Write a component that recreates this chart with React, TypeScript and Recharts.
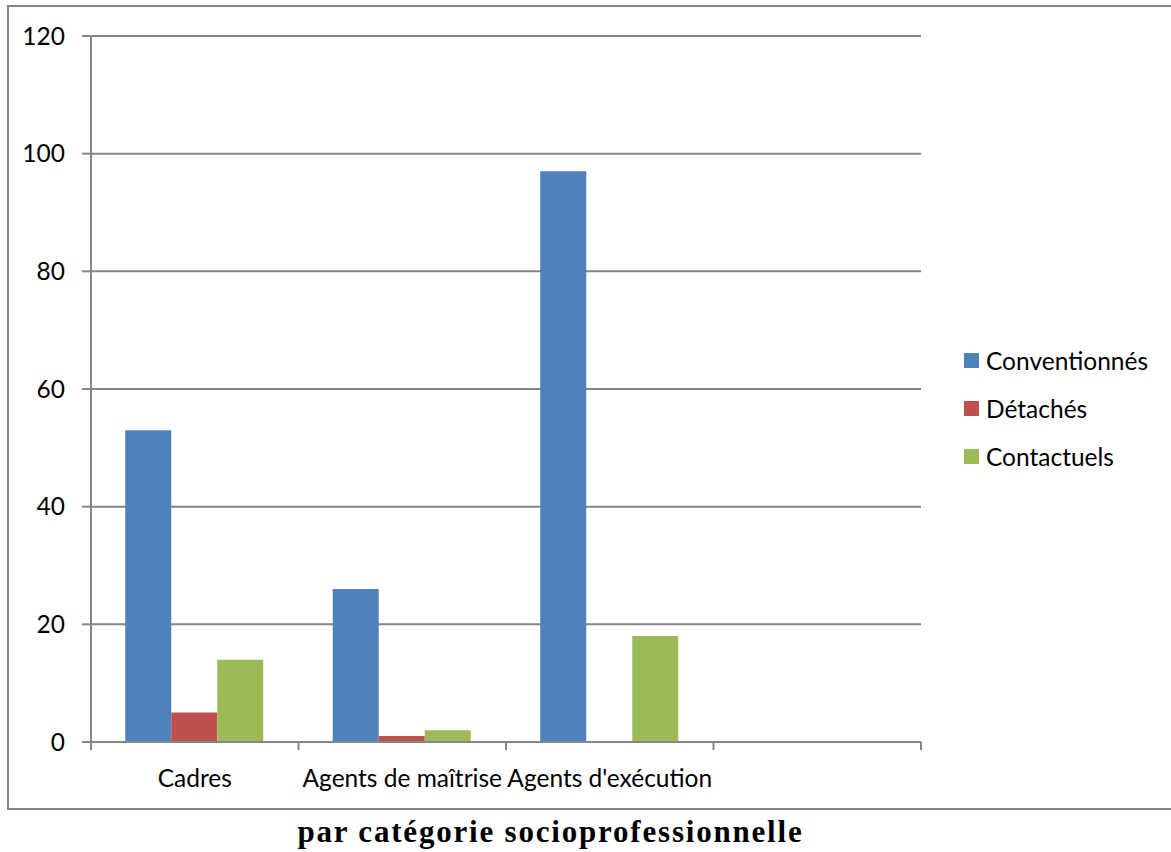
import { BarChart, Bar, XAxis, YAxis, CartesianGrid, Legend } from 'recharts';

const categories = ['Cadres', 'Agents de maîtrise', "Agents d'exécution", ''];
const conventionnes = [53, 26, 97, null];
const detaches = [5, 1, 0, null];
const contactuels = [14, 2, 18, null];
const yTicks = [0, 20, 40, 60, 80, 100, 120];

const series = [
  { key: 'conventionnes', name: 'Conventionnés', color: '#4F81BD' },
  { key: 'detaches', name: 'Détachés', color: '#C0504D' },
  { key: 'contactuels', name: 'Contactuels', color: '#9BBB59' },
];

const data = categories.map((name, i) => ({
  name,
  conventionnes: conventionnes[i],
  detaches: detaches[i],
  contactuels: contactuels[i],
}));

const W = 1171;
const H = 852;
const YW = 60;
const margin = { top: 36, right: 50, bottom: 70, left: 31 };
const LEGEND_W = 200;
const plotW = W - margin.left - margin.right - YW - LEGEND_W;
const band = plotW / categories.length;
const FONT = 'Lato, "Open Sans", sans-serif';
const FS = 24.5;
const GREY = '#868686';

function CatTick(props: any) {
  const { x, y, payload, index } = props;
  const half = band / 2;
  return (
    <g>
      <line x1={x - half} x2={x - half} y1={y - 8} y2={y} stroke={GREY} strokeWidth={2} />
      {index === categories.length - 1 && (
        <line x1={x + half} x2={x + half} y1={y - 8} y2={y} stroke={GREY} strokeWidth={2} />
      )}
      <text x={x} y={y + 37} textAnchor="middle" fill="#000" fontSize={FS} fontFamily={FONT}>
        {payload.value}
      </text>
    </g>
  );
}

function LegendBox() {
  return (
    <div style={{ fontFamily: FONT, fontSize: FS, color: '#000' }}>
      {series.map((s) => (
        <div key={s.key} style={{ display: 'flex', alignItems: 'center', height: 48 }}>
          <span style={{ width: 15, height: 15, background: s.color, marginRight: 7, display: 'inline-block' }} />
          <span>{s.name}</span>
        </div>
      ))}
    </div>
  );
}

export default function App() {
  return (
    <div style={{ position: 'absolute', left: 0, top: 0, width: W, height: H, overflow: 'hidden', background: '#fff' }}>
      <div
        style={{
          position: 'absolute', left: 7, top: 5, width: W, height: 805,
          border: `2px solid ${GREY}`, boxSizing: 'border-box',
        }}
      />
      <div style={{ position: 'absolute', left: 0, top: 0 }}>
        <BarChart width={W} height={H} data={data} margin={margin} barCategoryGap="16.5%" barGap={0}>
          <CartesianGrid horizontal vertical={false} stroke={GREY} strokeWidth={2} />
          <XAxis
            dataKey="name"
            axisLine={{ stroke: GREY, strokeWidth: 2 }}
            tickLine={false}
            tick={<CatTick />}
            interval={0}
            height={40}
          />
          <YAxis
            width={YW}
            domain={[0, 120]}
            ticks={yTicks}
            axisLine={{ stroke: GREY, strokeWidth: 2 }}
            tickLine={{ stroke: GREY, strokeWidth: 2 }}
            tickSize={9}
            tickMargin={17}
            tick={{ fill: '#000', fontSize: FS, fontFamily: FONT }}
          />
          <Legend
            layout="vertical"
            align="right"
            verticalAlign="middle"
            content={<LegendBox />}
            wrapperStyle={{ left: 964, top: 336, width: LEGEND_W }}
          />
          {series.map((s) => (
            <Bar key={s.key} dataKey={s.key} name={s.name} fill={s.color} isAnimationActive={false} />
          ))}
        </BarChart>
      </div>
      <div
        style={{
          position: 'absolute', left: 0, width: W - 70, top: 814, textAlign: 'center',
          fontFamily: '"Liberation Serif", serif', fontWeight: 'bold', fontSize: 31, letterSpacing: 1.8, color: '#000',
        }}
      >
        par catégorie socioprofessionnelle
      </div>
    </div>
  );
}
